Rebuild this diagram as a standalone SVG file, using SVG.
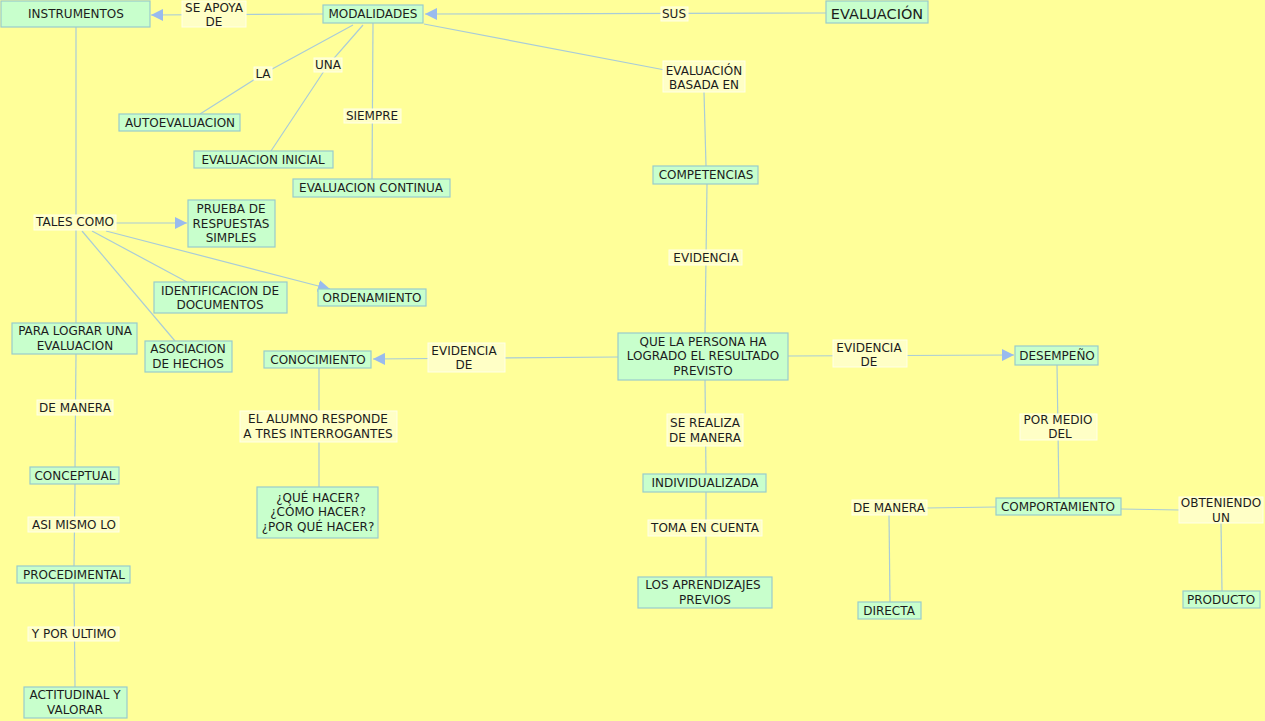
<svg xmlns="http://www.w3.org/2000/svg" width="1265" height="721" viewBox="0 0 1265 721">
<defs>
<style>
.n rect{fill:#C8FFCC;stroke:#99CCCC;stroke-width:1.2}
.l rect{fill:#FFFFC6;stroke:#FFFFE8;stroke-width:1}
text{font-family:"DejaVu Sans",Verdana,sans-serif;font-size:12px;fill:#1c1c1c;text-anchor:middle;dominant-baseline:central}
.c line,.c polyline{stroke:#A9CCD8;stroke-width:1.2;fill:none}
</style>
<marker id="a" markerUnits="userSpaceOnUse" markerWidth="13" markerHeight="12" refX="12" refY="6" orient="auto">
<path d="M0,0 L12,6 L0,12 Z" fill="#99BBEE"/>
</marker>
</defs>
<rect x="0" y="0" width="1265" height="721" fill="#FFFF99"/>
<g id="connectors" class="c">
<line x1="826" y1="13" x2="425" y2="14" marker-end="url(#a)"/>
<line x1="323" y1="14" x2="151" y2="15" marker-end="url(#a)"/>
<line x1="424" y1="24" x2="665" y2="70"/>
<line x1="704" y1="92" x2="706" y2="166"/>
<line x1="707" y1="184" x2="705" y2="333"/>
<line x1="618" y1="357" x2="373" y2="359" marker-end="url(#a)"/>
<line x1="788" y1="356" x2="1014" y2="355" marker-end="url(#a)"/>
<line x1="705" y1="380" x2="706" y2="474"/>
<line x1="706" y1="492" x2="706" y2="577"/>
<line x1="1057" y1="365" x2="1059" y2="498"/>
<line x1="996" y1="507" x2="926" y2="508"/>
<line x1="889" y1="515" x2="890" y2="602"/>
<line x1="1121" y1="509" x2="1180" y2="510"/>
<line x1="1221" y1="523" x2="1222" y2="591"/>
<line x1="319" y1="368" x2="319" y2="487"/>
<line x1="76" y1="27" x2="76" y2="323"/>
<line x1="116" y1="223" x2="187" y2="223" marker-end="url(#a)"/>
<line x1="92" y1="231" x2="187" y2="282"/>
<line x1="106" y1="231" x2="330" y2="289" marker-end="url(#a)"/>
<line x1="82" y1="231" x2="175" y2="341"/>
<line x1="76" y1="354" x2="75" y2="467"/>
<line x1="75" y1="484" x2="74" y2="566"/>
<line x1="74" y1="583" x2="75" y2="687"/>
<polyline points="353,25 263,74 200,114"/>
<polyline points="363,25 328,65 271,151"/>
<line x1="373" y1="23" x2="372" y2="179"/>
</g>
<g id="n-instrumentos" class="n"><rect x="1" y="1" width="149" height="26"/><text x="76" y="14">INSTRUMENTOS</text></g>
<g id="n-modalidades" class="n"><rect x="323" y="5" width="100" height="18"/><text x="373" y="14">MODALIDADES</text></g>
<g id="n-evaluacion" class="n"><rect x="826" y="1" width="102" height="22"/><text x="877" y="14" style="font-size:14.5px">EVALUACIÓN</text></g>
<g id="n-autoevaluacion" class="n"><rect x="119" y="114" width="121" height="17"/><text x="180" y="122.5">AUTOEVALUACION</text></g>
<g id="n-inicial" class="n"><rect x="194" y="151" width="139" height="17"/><text x="263" y="159.5">EVALUACION INICIAL</text></g>
<g id="n-continua" class="n"><rect x="293" y="179" width="157" height="18"/><text x="371" y="188">EVALUACION CONTINUA</text></g>
<g id="n-competencias" class="n"><rect x="653" y="166" width="105" height="18"/><text x="706" y="175">COMPETENCIAS</text></g>
<g id="n-prueba" class="n"><rect x="188" y="200" width="87" height="47"/><text x="231" y="209">PRUEBA DE</text><text x="231" y="224">RESPUESTAS</text><text x="231" y="238">SIMPLES</text></g>
<g id="n-identificacion" class="n"><rect x="154" y="282" width="133" height="31"/><text x="220" y="291">IDENTIFICACION DE</text><text x="220" y="305">DOCUMENTOS</text></g>
<g id="n-ordenamiento" class="n"><rect x="318" y="289" width="108" height="17"/><text x="372" y="297.5">ORDENAMIENTO</text></g>
<g id="n-paralograr" class="n"><rect x="12" y="323" width="125" height="31"/><text x="75" y="331">PARA LOGRAR UNA</text><text x="75" y="346">EVALUACION</text></g>
<g id="n-asociacion" class="n"><rect x="145" y="341" width="87" height="31"/><text x="188" y="349">ASOCIACION</text><text x="188" y="364">DE HECHOS</text></g>
<g id="n-conocimiento" class="n"><rect x="264" y="351" width="107" height="17"/><text x="318" y="359.5">CONOCIMIENTO</text></g>
<g id="n-persona" class="n"><rect x="618" y="333" width="170" height="47"/><text x="703" y="342">QUE LA PERSONA HA</text><text x="703" y="356">LOGRADO EL RESULTADO</text><text x="703" y="371">PREVISTO</text></g>
<g id="n-desempeno" class="n"><rect x="1015" y="346" width="83" height="19"/><text x="1057" y="356">DESEMPEÑO</text></g>
<g id="n-quehacer" class="n"><rect x="257" y="487" width="121" height="51"/><text x="318" y="498">¿QUÉ HACER?</text><text x="318" y="512">¿CÓMO HACER?</text><text x="318" y="527">¿POR QUÉ HACER?</text></g>
<g id="n-individualizada" class="n"><rect x="643" y="474" width="123" height="18"/><text x="705" y="483">INDIVIDUALIZADA</text></g>
<g id="n-aprendizajes" class="n"><rect x="638" y="577" width="134" height="31"/><text x="703" y="585">LOS APRENDIZAJES</text><text x="705" y="600">PREVIOS</text></g>
<g id="n-comportamiento" class="n"><rect x="996" y="498" width="125" height="17"/><text x="1058" y="506.5">COMPORTAMIENTO</text></g>
<g id="n-directa" class="n"><rect x="858" y="602" width="63" height="17"/><text x="889" y="610.5">DIRECTA</text></g>
<g id="n-producto" class="n"><rect x="1183" y="591" width="77" height="17"/><text x="1221" y="599.5">PRODUCTO</text></g>
<g id="n-conceptual" class="n"><rect x="30" y="467" width="89" height="17"/><text x="75" y="475.5">CONCEPTUAL</text></g>
<g id="n-procedimental" class="n"><rect x="17" y="566" width="113" height="17"/><text x="74" y="574.5">PROCEDIMENTAL</text></g>
<g id="n-actitudinal" class="n"><rect x="24" y="687" width="103" height="31"/><text x="75" y="695">ACTITUDINAL Y</text><text x="75" y="710">VALORAR</text></g>
<g id="l-seapoya" class="l"><rect x="182" y="1" width="64" height="26"/><text x="214" y="8">SE APOYA</text><text x="214" y="22">DE</text></g>
<g id="l-sus" class="l"><rect x="661" y="7" width="27" height="14"/><text x="674" y="14">SUS</text></g>
<g id="l-basada" class="l"><rect x="663" y="61" width="82" height="31"/><text x="704" y="71">EVALUACIÓN</text><text x="704" y="85">BASADA EN</text></g>
<g id="l-la" class="l"><rect x="254" y="67" width="18" height="13"/><text x="263" y="74">LA</text></g>
<g id="l-una" class="l"><rect x="314" y="58" width="28" height="14"/><text x="328" y="65">UNA</text></g>
<g id="l-siempre" class="l"><rect x="344" y="109" width="57" height="14"/><text x="372" y="116">SIEMPRE</text></g>
<g id="l-talescomo" class="l"><rect x="34" y="215" width="82" height="15"/><text x="75" y="222">TALES COMO</text></g>
<g id="l-evidencia" class="l"><rect x="669" y="250" width="73" height="15"/><text x="706" y="258">EVIDENCIA</text></g>
<g id="l-evidenciade1" class="l"><rect x="428" y="343" width="77" height="29"/><text x="464" y="351">EVIDENCIA</text><text x="464" y="365">DE</text></g>
<g id="l-evidenciade2" class="l"><rect x="833" y="340" width="74" height="27"/><text x="869" y="348">EVIDENCIA</text><text x="869" y="362">DE</text></g>
<g id="l-serealiza" class="l"><rect x="667" y="414" width="76" height="32"/><text x="705" y="423">SE REALIZA</text><text x="705" y="438">DE MANERA</text></g>
<g id="l-pormedio" class="l"><rect x="1020" y="414" width="77" height="26"/><text x="1058" y="420">POR MEDIO</text><text x="1060" y="434">DEL</text></g>
<g id="l-alumno" class="l"><rect x="240" y="411" width="157" height="31"/><text x="318" y="419">EL ALUMNO RESPONDE</text><text x="318" y="434">A TRES INTERROGANTES</text></g>
<g id="l-tomaencuenta" class="l"><rect x="648" y="520" width="114" height="16"/><text x="705" y="528">TOMA EN CUENTA</text></g>
<g id="l-demanera2" class="l"><rect x="852" y="500" width="75" height="15"/><text x="889" y="508">DE MANERA</text></g>
<g id="l-obteniendo" class="l"><rect x="1179" y="497" width="84" height="26"/><text x="1221" y="503">OBTENIENDO</text><text x="1221" y="518">UN</text></g>
<g id="l-demanera1" class="l"><rect x="37" y="400" width="76" height="15"/><text x="75" y="408">DE MANERA</text></g>
<g id="l-asimismo" class="l"><rect x="28" y="517" width="91" height="15"/><text x="74" y="525">ASI MISMO LO</text></g>
<g id="l-porultimo" class="l"><rect x="28" y="627" width="91" height="14"/><text x="74" y="634">Y POR ULTIMO</text></g>
</svg>
